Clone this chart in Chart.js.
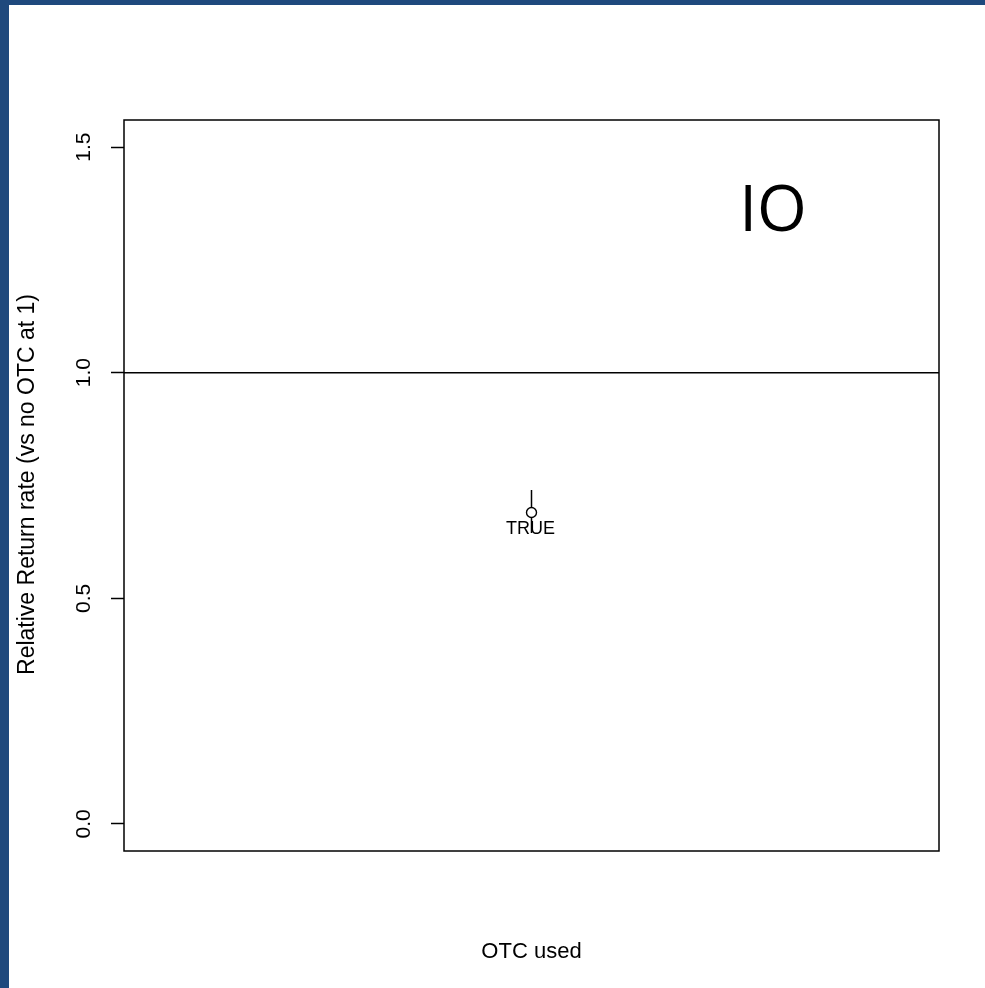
<!DOCTYPE html>
<html>
<head>
<meta charset="utf-8">
<script src="https://cdn.jsdelivr.net/npm/chart.js@4/dist/chart.umd.min.js"></script>
<style>
  html, body { margin: 0; padding: 0; background: #ffffff; }
  #frame {
    position: absolute; left: 0; top: 0;
    width: 976px; height: 983px;
    border-left: 9px solid #1f497d;
    border-top: 5px solid #1f497d;
    background: #ffffff;
  }
  canvas { display: block; }
</style>
</head>
<body>
<div id="frame"><canvas id="chart" width="976" height="983"></canvas></div>
<script>
// Relative return rate by OTC use, with the no-OTC group fixed at 1
const categories = ['TRUE'];
const estimates = [0.69];
const lowerCI = [0.645];
const upperCI = [0.74];
const referenceLevel = 1;
const yTicks = [0, 0.5, 1.0, 1.5];
const yTickLabels = ['0.0', '0.5', '1.0', '1.5'];
const yRange = [-0.06, 1.56];
const xRange = [0, 2];
const panelLabel = 'IO';
const xTitle = 'OTC used';
const yTitle = 'Relative Return rate (vs no OTC at 1)';

const FONT = '"Liberation Sans", Arial, sans-serif';

const pointData = categories.map((c, i) => ({ x: i + 1, y: estimates[i] }));

const annotate = {
  id: 'annotate',
  afterDatasetsDraw(chart) {
    const { ctx, chartArea: a, scales: { x, y } } = chart;
    ctx.save();
    ctx.strokeStyle = '#000';
    ctx.fillStyle = '#000';

    // interval whiskers
    ctx.lineWidth = 1.5;
    categories.forEach((c, i) => {
      const px = x.getPixelForValue(i + 1);
      const yc = y.getPixelForValue(estimates[i]);
      const r = 5;
      ctx.beginPath();
      ctx.moveTo(px, y.getPixelForValue(upperCI[i]));
      ctx.lineTo(px, yc - r);
      ctx.moveTo(px, yc + r);
      ctx.lineTo(px, y.getPixelForValue(lowerCI[i]));
      ctx.stroke();
    });

    // category labels under the points
    ctx.font = '18px ' + FONT;
    ctx.textAlign = 'center';
    ctx.textBaseline = 'middle';
    categories.forEach((c, i) => {
      ctx.fillText(c, x.getPixelForValue(i + 1) - 1, y.getPixelForValue(estimates[i]) + 16);
    });

    // plot frame
    ctx.lineWidth = 1.5;
    ctx.strokeRect(a.left, a.top, a.right - a.left, a.bottom - a.top);

    // y tick labels, parallel to the axis
    ctx.font = '21px ' + FONT;
    yTicks.forEach((v, i) => {
      ctx.save();
      ctx.translate(a.left - 40, y.getPixelForValue(v));
      ctx.rotate(-Math.PI / 2);
      ctx.textAlign = 'center';
      ctx.textBaseline = 'middle';
      ctx.fillText(yTickLabels[i], 0, 0);
      ctx.restore();
    });

    // axis titles
    ctx.font = '23px ' + FONT;
    ctx.save();
    ctx.translate(19, (a.top + a.bottom) / 2 - 1);
    ctx.rotate(-Math.PI / 2);
    ctx.textAlign = 'center';
    ctx.textBaseline = 'middle';
    ctx.fillText(yTitle, 0, 0);
    ctx.restore();

    ctx.font = '22px ' + FONT;
    ctx.textAlign = 'center';
    ctx.textBaseline = 'middle';
    ctx.fillText(xTitle, (a.left + a.right) / 2, 947);

    // panel label
    ctx.font = '64px "Open Sans", "Noto Sans", sans-serif';
    ctx.textAlign = 'center';
    ctx.textBaseline = 'middle';
    ctx.fillText(panelLabel, 764, 208);

    ctx.restore();
  }
};

new Chart(document.getElementById('chart'), {
  data: {
    datasets: [
      {
        type: 'line',
        data: [{ x: xRange[0], y: referenceLevel }, { x: xRange[1], y: referenceLevel }],
        borderColor: '#000',
        borderWidth: 1.5,
        pointRadius: 0,
        fill: false
      },
      {
        type: 'scatter',
        data: pointData,
        pointStyle: 'circle',
        pointRadius: 5,
        borderWidth: 1.4,
        borderColor: '#000',
        backgroundColor: 'rgba(0,0,0,0)'
      }
    ]
  },
  options: {
    responsive: false,
    animation: false,
    events: [],
    layout: { padding: { left: 0, top: 115, right: 46, bottom: 137 } },
    plugins: { legend: { display: false }, tooltip: { enabled: false } },
    scales: {
      x: {
        type: 'linear',
        display: false,
        min: xRange[0],
        max: xRange[1]
      },
      y: {
        type: 'linear',
        min: yRange[0],
        max: yRange[1],
        afterBuildTicks: (scale) => { scale.ticks = yTicks.map(v => ({ value: v })); },
        afterFit: (scale) => { scale.width = 115; },
        ticks: { display: false },
        border: { display: false },
        grid: {
          drawOnChartArea: false,
          drawTicks: true,
          tickLength: 13,
          tickWidth: 1.5,
          tickColor: '#000'
        }
      }
    }
  },
  plugins: [annotate]
});
</script>
</body>
</html>
